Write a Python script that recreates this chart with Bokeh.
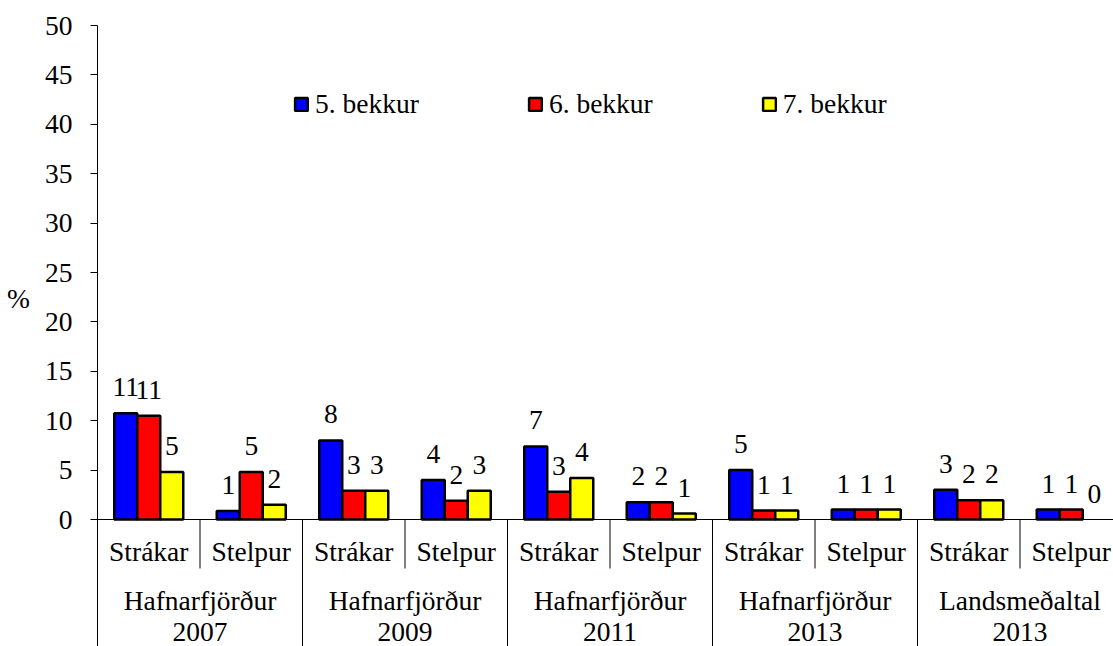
import numpy as np
from bokeh.plotting import figure
from bokeh.models import (Range1d, FixedTicker, Span, Legend, LegendItem,
                          ColumnDataSource, CDSView, BooleanFilter)
from bokeh.core.properties import value
from bokeh.embed import file_html
from bokeh.resources import INLINE

# ---------------- data ----------------
categories = ["Strákar", "Stelpur"] * 5
group_names = ["Hafnarfjörður", "Hafnarfjörður", "Hafnarfjörður", "Hafnarfjörður", "Landsmeðaltal"]
group_years = ["2007", "2009", "2011", "2013", "2013"]
series_names = ["5. bekkur", "6. bekkur", "7. bekkur"]
bekkur5 = [10.75, 0.85, 8.0, 4.0, 7.4, 1.75, 5.0, 1.0, 3.0, 1.0]
bekkur6 = [10.5, 4.8, 2.9, 1.9, 2.8, 1.75, 0.9, 1.0, 1.95, 1.0]
bekkur7 = [4.8, 1.5, 2.9, 2.9, 4.2, 0.6, 0.9, 1.0, 1.95, 0.0]
colors = ["#0000FF", "#FF0000", "#FFFF00"]
y_ticks = [0, 5, 10, 15, 20, 25, 30, 35, 40, 45, 50]

# ---------------- layout ----------------
FONT_NAME = "Liberation Serif"
FONT = value(FONT_NAME)
FS = "27.5px"
W, H = 1113, 646
LEFT, TOP = 97, 25
cat_px = 102.5
frame_w = W - LEFT
frame_h = H - TOP
px_per_unit = 9.88
y_min = 50 - frame_h / px_per_unit
x_max = frame_w / cat_px
bw = 23 / cat_px

p = figure(width=W, height=H, output_backend="svg", toolbar_location=None,
           x_range=Range1d(0, x_max), y_range=Range1d(y_min, 50),
           x_axis_location=None, min_border_left=LEFT, min_border_right=0,
           min_border_top=TOP, min_border_bottom=0)
p.outline_line_color = None
p.xgrid.visible = False
p.ygrid.visible = False

ax = p.yaxis[0]
ax.ticker = FixedTicker(ticks=y_ticks)
ax.axis_line_color = "black"
ax.major_tick_line_color = "black"
ax.major_tick_out = 7
ax.major_tick_in = 0
ax.minor_tick_line_color = None
ax.major_label_standoff = 18
ax.major_label_text_font = FONT_NAME
ax.major_label_text_font_size = FS
ax.major_label_text_color = "black"
ax.axis_label = "%\n\n"
ax.axis_label_orientation = "horizontal"
ax.axis_label_text_font = FONT_NAME
ax.axis_label_text_font_style = "normal"
ax.axis_label_text_font_size = FS
ax.axis_label_text_color = "black"
ax.axis_label_standoff = 12

# category axis line at 0
p.add_layout(Span(location=0, dimension="width", line_color="black", line_width=1))

n = len(categories)
idx = np.arange(n)
renderers = []
all_series = [bekkur5, bekkur6, bekkur7]
for k, (vals, col, name) in enumerate(zip(all_series, colors, series_names)):
    vals = np.array(vals, dtype=float)
    xs = idx + 0.5 + (k - 1) * bw
    labels = [str(int(np.floor(v + 0.5))) for v in vals]
    src = ColumnDataSource(dict(x=xs, top=vals, lab=labels))
    view = CDSView(filter=BooleanFilter([bool(v > 0) for v in vals]))
    r = p.vbar(x="x", top="top", bottom=0, width=bw, source=src, view=view,
               fill_color=col, line_color="black", line_width=2.5)
    renderers.append(r)
    p.text(x="x", y="top", text="lab", source=src, text_align="center",
           text_baseline="alphabetic", y_offset=-26, text_font=FONT,
           text_font_size=FS, text_color="black")

# separators below the axis
sub_b = [i for i in range(1, n) if i % 2 == 1]
grp_b = [i for i in range(1, n) if i % 2 == 0]
p.segment(x0=sub_b, x1=sub_b, y0=[0] * len(sub_b), y1=[-49 / px_per_unit] * len(sub_b),
          line_color="black", line_width=1)
p.segment(x0=grp_b, x1=grp_b, y0=[0] * len(grp_b), y1=[y_min] * len(grp_b),
          line_color="black", line_width=1)

# category labels (two levels)
p.text(x=idx + 0.5, y=[-(551 - 519) / px_per_unit] * n, text=categories,
       text_align="center", text_baseline="alphabetic", text_font=FONT,
       text_font_size=FS, text_color="black")
gx = np.arange(len(group_names)) * 2 + 1.0
p.text(x=gx, y=[-(600 - 519) / px_per_unit] * len(gx), text=group_names,
       text_align="center", text_baseline="alphabetic", text_font=FONT,
       text_font_size=FS, text_color="black")
p.text(x=gx, y=[-(631 - 519) / px_per_unit] * len(gx), text=group_years,
       text_align="center", text_baseline="alphabetic", text_font=FONT,
       text_font_size=FS, text_color="black")

legend = Legend(items=[LegendItem(label=s, renderers=[r]) for s, r in zip(series_names, renderers)],
                orientation="horizontal", location=(196, 646 - 120), spacing=108,
                glyph_width=16, glyph_height=16, label_standoff=6, padding=0, margin=0,
                border_line_color=None, background_fill_alpha=0,
                label_text_font=FONT_NAME, label_text_font_size=FS,
                label_text_color="black")
p.add_layout(legend)

open("out.html", "w").write(file_html(p, INLINE))
